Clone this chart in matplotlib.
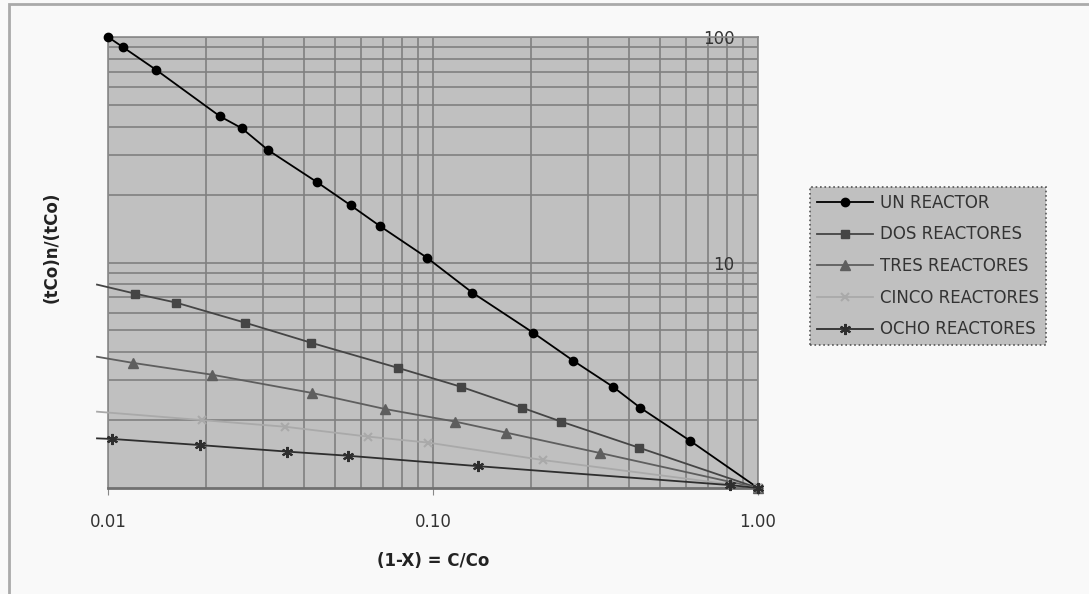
import matplotlib
matplotlib.use("Agg")
import matplotlib.pyplot as plt
from matplotlib.patches import Rectangle
from matplotlib.ticker import FixedLocator, NullFormatter, LogLocator

# datos
x_un = [0.01, 0.0111, 0.0141, 0.0221, 0.0258, 0.0311, 0.044, 0.0559, 0.0687,
        0.0958, 0.132, 0.203, 0.27, 0.358, 0.434, 0.618, 1.0]
y_un = [100, 90.3, 71.3, 44.5, 39.4, 31.5, 22.7, 17.9, 14.5,
        10.5, 7.36, 4.89, 3.67, 2.81, 2.27, 1.62, 1.0]

x_dos = [0.00925, 0.0121, 0.0162, 0.0264, 0.0421, 0.078, 0.122, 0.188, 0.248, 0.43, 1.0]
y_dos = [7.98, 7.28, 6.64, 5.41, 4.41, 3.41, 2.81, 2.27, 1.97, 1.51, 1.0]

x_tres = [0.00925, 0.0119, 0.0209, 0.0424, 0.0712, 0.117, 0.168, 0.326, 1.0]
y_tres = [3.82, 3.59, 3.18, 2.64, 2.24, 1.97, 1.76, 1.43, 1.0]

x_cinco = [0.00925, 0.0195, 0.035, 0.0631, 0.0965, 0.218, 1.0]
y_cinco = [2.18, 2.0, 1.87, 1.69, 1.59, 1.33, 1.0]

x_ocho = [0.00925, 0.0103, 0.0192, 0.0356, 0.0548, 0.1375, 0.82, 1.0]
y_ocho = [1.66, 1.65, 1.55, 1.45, 1.39, 1.25, 1.03, 1.0]

series = [
    ("UN REACTOR", x_un, y_un, "#000000", "o", 6, None),
    ("DOS REACTORES", x_dos, y_dos, "#454545", "s", 6, slice(1, None)),
    ("TRES REACTORES", x_tres, y_tres, "#5e5e5e", "^", 7, slice(1, None)),
    ("CINCO REACTORES", x_cinco, y_cinco, "#a9a9a9", "x", 6, slice(1, None)),
    ("OCHO REACTORES", x_ocho, y_ocho, "#2e2e2e", (6, 2, 0), 8, slice(1, None)),
]

plt.rcParams['font.family'] = ['DejaVu Sans']
FS = 12

fig = plt.figure(figsize=(10.89, 5.94), dpi=100, facecolor="#f9f9f9")
W, H = 1089, 594
ax = fig.add_axes([108 / W, 1 - 488 / H, 650 / W, 451 / H])
ax.set_facecolor("#c0c0c0")

# marco exterior del grafico
fig.patches.append(Rectangle((9 / W, -0.02), 1.05, 1 - 4 / H + 0.02,
                             transform=fig.transFigure, fill=False,
                             edgecolor="#aaaaaa", linewidth=2))

for name, xs, ys, col, mk, ms, mev in series:
    ax.plot(xs, ys, color=col, marker=mk, markersize=ms, linewidth=1.3,
            markeredgewidth=1.5 if mk in ("x", (6, 2, 0)) else 1.0,
            markevery=mev, label=name, clip_on=False, zorder=3)

ax.set_xscale("log")
ax.set_yscale("log")
ax.set_xlim(0.01, 1.0)
ax.set_ylim(1, 100)

ax.xaxis.set_major_locator(FixedLocator([0.01, 0.1, 1.0]))
ax.set_xticklabels(["0.01", "0.10", "1.00"])
ax.xaxis.set_minor_locator(LogLocator(base=10, subs=range(2, 10)))
ax.xaxis.set_minor_formatter(NullFormatter())

ax.yaxis.set_major_locator(FixedLocator([10, 100]))
ax.set_yticklabels(["10", "100"])
ax.yaxis.set_minor_locator(LogLocator(base=10, subs=range(2, 10)))
ax.yaxis.set_minor_formatter(NullFormatter())

ax.grid(True, which="both", color="#808080", linewidth=1.2)
ax.set_axisbelow(True)

ax.tick_params(axis="x", which="major", direction="out", length=5,
               color="#888888", pad=13, labelsize=FS, labelcolor="#333333")
ax.tick_params(axis="y", which="major", direction="in", length=8,
               left=False, right=True, labelleft=False, labelright=True,
               color="#888888", pad=-17, labelsize=FS, labelcolor="#333333")
ax.tick_params(which="minor", length=0)
for lbl in ax.get_yticklabels():
    lbl.set_horizontalalignment("right")

for s in ax.spines.values():
    s.set_color("#8a8a8a")
    s.set_linewidth(1.2)
ax.spines["bottom"].set_color("#707070")
ax.spines["bottom"].set_linewidth(2)

ax.set_xlabel("(1-X) = C/Co", fontsize=FS, fontweight="bold", color="#222222",
              va="center")
ax.xaxis.set_label_coords(0.5, -0.162)
ax.set_ylabel("(tCo)n/(tCo)", fontsize=FS, fontweight="bold", color="#222222",
              va="center")
ax.yaxis.set_label_coords(-0.086, 0.534)

leg = ax.legend(loc="upper left", bbox_to_anchor=(810 / W, 1 - 187 / H),
                bbox_transform=fig.transFigure, fontsize=FS,
                frameon=True, fancybox=False, facecolor="#c0c0c0",
                edgecolor="#555555", framealpha=1, labelspacing=0.82,
                handlelength=3.4, handletextpad=0.4, borderpad=0.4,
                borderaxespad=0)
leg.get_frame().set_linestyle(":")
leg.get_frame().set_linewidth(1.2)
for t in leg.get_texts():
    t.set_color("#333333")

fig.savefig("out.png", dpi=100, facecolor=fig.get_facecolor())
